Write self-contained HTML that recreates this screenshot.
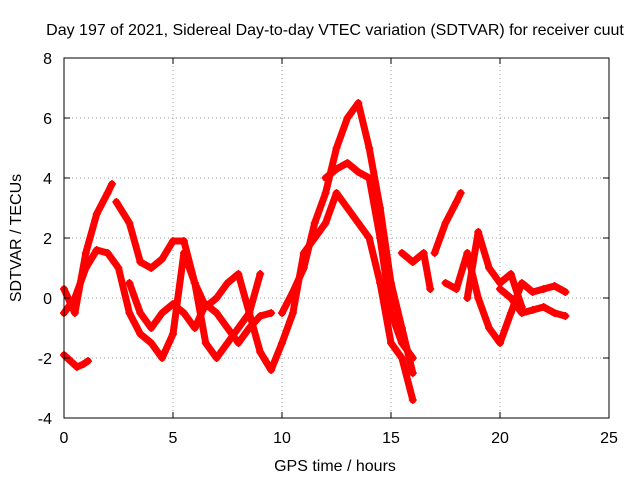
<!DOCTYPE html>
<html><head><meta charset="utf-8"><style>
body{margin:0;background:#fff}
svg{display:block;font-family:"Liberation Sans",sans-serif}
</style></head><body>
<svg id="c" width="640" height="480" xmlns="http://www.w3.org/2000/svg">
<text x="335" y="35" font-size="16" text-anchor="middle">Day 197 of 2021, Sidereal Day-to-day VTEC variation (SDTVAR) for receiver cuut</text>
<text x="335" y="471" font-size="16" text-anchor="middle">GPS time / hours</text>
<text x="21" y="238" font-size="16" text-anchor="middle" transform="rotate(-90 21 238)">SDTVAR / TECUs</text>
<g id="grid"></g><g id="marks"></g><g id="axes"></g>
</svg>
<script>
const xTicks=[0,5,10,15,20,25];
const yTicks=[-4,-2,0,2,4,6,8];
const sA=[[0,-1.9],[0.3,-2.1],[0.6,-2.3],[0.9,-2.2],[1.1,-2.1]];
const sB=[[0,0.3],[0.5,-0.5],[1,1.5],[1.5,2.8],[2,3.5],[2.2,3.8]];
const sB2=[[2.4,3.2],[3,2.5],[3.5,1.2],[4,1.0],[4.5,1.3],[5,1.9],[5.5,1.9],[6,0.5],[6.5,-0.3],[7,0],[7.5,0.5],[8,0.8],[8.5,-0.5],[9,0.8]];
const sC=[[0,-0.5],[0.5,0],[1,1.0],[1.5,1.6],[2,1.5],[2.5,1.0],[3,-0.5],[3.5,-1.2],[4,-1.5],[4.5,-2.0],[5,-1.2],[5.5,1.5],[6,0.5],[6.5,-1.5],[7,-2.0],[7.5,-1.5],[8,-1.0],[8.5,-0.5],[9,-1.8],[9.5,-2.4],[10,-1.5],[10.5,-0.5],[11,1.5],[11.5,2.0],[12,2.5],[12.5,3.5],[13,3.0],[13.5,2.5],[14,2.0],[14.5,0.5],[15,-1.5],[15.5,-2.0],[16,-3.4]];
const sD=[[3,0.5],[3.5,-0.5],[4,-1.0],[4.5,-0.5],[5,-0.2],[5.5,-0.5],[6,-1.0],[6.5,-0.2],[7,-0.5],[7.5,-1.0],[8,-1.5],[8.5,-1.0],[9,-0.6],[9.5,-0.5]];
const sE=[[10,-0.5],[10.5,0.2],[11,1.0],[11.5,2.5],[12,3.5],[12.5,5.0],[13,6.0],[13.5,6.5],[14,5.0],[14.5,3.0],[15,0.5],[15.5,-1.0],[16,-2.5]];
const sF=[[12,4.0],[12.5,4.3],[13,4.5],[13.5,4.2],[14,4.0],[14.5,2.0],[15,-0.5],[15.5,-1.5],[16,-2.0]];
const sG=[[15.5,1.5],[16,1.2],[16.5,1.5],[16.8,0.3]];
const sH=[[17,1.5],[17.5,2.5],[18,3.2],[18.2,3.5]];
const sI=[[17.5,0.5],[18,0.3],[18.5,1.5],[19,0],[19.5,-1.0],[20,-1.5],[20.5,-0.5],[21,0.5],[21.5,0.2],[22,0.3],[22.5,0.4],[23,0.2]];
const sJ=[[18.5,0],[19,2.2],[19.5,1.0],[20,0.5],[20.5,0.8],[21,-0.3]];
const sK=[[20,0.3],[20.5,0],[21,-0.5],[21.5,-0.4],[22,-0.3],[22.5,-0.5],[23,-0.6]];
const series=[sA,sB,sB2,sC,sD,sE,sF,sG,sH,sI,sJ,sK];
const X=v=>64+v*(609-64)/25, Y=v=>418-(v+4)*30;
const NS="http://www.w3.org/2000/svg";
function mk(t,a,p){const e=document.createElementNS(NS,t);for(const k in a)e.setAttribute(k,a[k]);p.appendChild(e);return e;}
const grid=document.getElementById('grid'),axes=document.getElementById('axes'),marks=document.getElementById('marks');
xTicks.forEach(t=>{const x=X(t);
 if(t>0&&t<25){const g=mk('line',{x1:x,x2:x,y1:58,y2:418,stroke:'#a0a0a0','stroke-dasharray':'1,3'},grid);}
 mk('line',{x1:x,x2:x,y1:418,y2:412,stroke:'#000'},axes);mk('line',{x1:x,x2:x,y1:58,y2:64,stroke:'#000'},axes);
 const l=mk('text',{x:x,y:443,'font-size':16,'text-anchor':'middle'},axes);l.textContent=t;});
yTicks.forEach(t=>{const y=Y(t);
 if(t>-4&&t<8){const g=mk('line',{x1:64,x2:609,y1:y,y2:y,stroke:'#a0a0a0','stroke-dasharray':'1,3'},grid);}
 mk('line',{x1:64,x2:70,y1:y,y2:y,stroke:'#000'},axes);mk('line',{x1:609,x2:603,y1:y,y2:y,stroke:'#000'},axes);
 const l=mk('text',{x:52,y:y+6,'font-size':16,'text-anchor':'end'},axes);l.textContent=t;});
const b=mk('rect',{x:64,y:58,width:545,height:360,fill:'none',stroke:'#000'},axes);

series.forEach(s=>{
 const pl=mk('polyline',{points:s.map(p=>X(p[0])+','+Y(p[1])).join(' '),fill:'none',stroke:'#f00','stroke-width':7,'stroke-linejoin':'round','stroke-linecap':'round'},marks);
 
 s.forEach(p=>{const x=X(p[0]),y=Y(p[1]);
  const m=mk('path',{d:`M${x-4},${y}H${x+4}M${x},${y-4}V${y+4}`,stroke:'#f00','stroke-width':1.5},marks);
  });
});
</script>
</body></html>
